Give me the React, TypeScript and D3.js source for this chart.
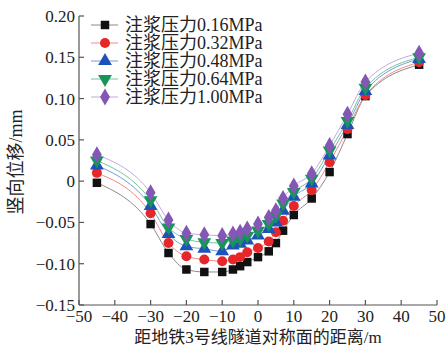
import { useMemo } from 'react';
import * as d3 from "d3";

// 距离 (m)
const distances = [-45, -30, -25, -20, -15, -10, -7, -5, -3, 0, 3, 5, 7, 10, 15, 20, 25, 30, 45];

// 竖向位移 (mm), one array per grouting pressure
const p016 = [-0.002, -0.052, -0.087, -0.107, -0.110, -0.110, -0.107, -0.103, -0.098, -0.092, -0.085, -0.075, -0.060, -0.041, -0.021, 0.011, 0.057, 0.103, 0.141];
const p032 = [0.010, -0.039, -0.075, -0.091, -0.095, -0.097, -0.095, -0.092, -0.086, -0.081, -0.073, -0.062, -0.048, -0.030, -0.011, 0.023, 0.063, 0.104, 0.144];
const p048 = [0.019, -0.030, -0.064, -0.079, -0.082, -0.085, -0.078, -0.076, -0.072, -0.066, -0.058, -0.050, -0.036, -0.019, -0.003, 0.031, 0.068, 0.109, 0.148];
const p064 = [0.025, -0.023, -0.056, -0.070, -0.074, -0.075, -0.072, -0.070, -0.066, -0.060, -0.052, -0.042, -0.027, -0.013, 0.003, 0.037, 0.073, 0.113, 0.150];
const p100 = [0.032, -0.014, -0.047, -0.063, -0.065, -0.066, -0.064, -0.062, -0.058, -0.052, -0.044, -0.036, -0.021, -0.006, 0.009, 0.043, 0.081, 0.120, 0.155];

const seriesNames = ["注浆压力0.16MPa", "注浆压力0.32MPa", "注浆压力0.48MPa", "注浆压力0.64MPa", "注浆压力1.00MPa"];
const xTicks = [-50, -40, -30, -20, -10, 0, 10, 20, 30, 40, 50];
const yTicks = [-0.15, -0.10, -0.05, 0, 0.05, 0.10, 0.15, 0.20];

const markColors = ["#111111", "#e5262b", "#1f52b8", "#16955a", "#8457b4"];
const lineColors = ["#8a8a8a", "#f08a80", "#6e9ed8", "#74c497", "#c6a6e2"];
const symbols = [d3.symbolSquare, d3.symbolCircle, d3.symbolTriangle, d3.symbolTriangle, d3.symbolDiamond];
const symSizes = [72, 78, 82, 82, 84];

const FONT = "'Liberation Serif', 'Noto Sans CJK SC', serif";

const fmtY = (v: number) => v === 0 ? "0" : (v < 0 ? "\u2212" : "") + Math.abs(v).toFixed(2);
const fmtX = (v: number) => (v < 0 ? "\u2212" : "") + Math.abs(v);

export default function App() {
     const width = 448, height = 346;
     const m = { left: 79, right: 437, top: 16, bottom: 305 };
     const x = d3.scaleLinear().domain([-50, 50]).range([m.left, m.right]);
     const y = d3.scaleLinear().domain([-0.15, 0.20]).range([m.bottom, m.top]);
     const all = [p016, p032, p048, p064, p100];

     const line = useMemo(() => d3.line<number>()
          .x((_, i) => x(distances[i]))
          .y(d => y(d))
          .curve(d3.curveMonotoneX), []);

     const sym = (i: number) => d3.symbol().type(symbols[i]).size(symSizes[i])() as string;
     const rot = (i: number) => i === 3 ? " rotate(180)" : "";

     return (
          <svg width={width} height={height} style={{ display: 'block' }} fontFamily={FONT}>
               <style>{`body{margin:0}`}</style>
               <rect width={width} height={height} fill="#fff" />

               {/* axes */}
               <g stroke="#555" strokeWidth={1.2} fill="none">
                    <line x1={m.left} x2={m.left} y1={m.top} y2={m.bottom} />
                    <line x1={m.left} x2={m.right} y1={m.bottom} y2={m.bottom} />
                    {yTicks.map(t => <line key={t} x1={m.left} x2={m.left + 5} y1={y(t)} y2={y(t)} />)}
                    {xTicks.map(t => <line key={t} x1={x(t)} x2={x(t)} y1={m.bottom} y2={m.bottom - 5} />)}
               </g>
               <g fontSize={17} fill="#222">
                    {yTicks.map(t => <text key={t} x={m.left - 4} y={y(t) + 6} textAnchor="end">{fmtY(t)}</text>)}
                    {xTicks.map(t => <text key={t} x={x(t)} y={m.bottom + 17} textAnchor="middle">{fmtX(t)}</text>)}
               </g>
               <text x={258} y={343} fontSize={17} textAnchor="middle" fill="#222">距地铁3号线隧道对称面的距离/m</text>
               <text transform="translate(22,162) rotate(-90)" fontSize={18} textAnchor="middle" fill="#222">竖向位移/mm</text>

               {/* series */}
               {all.map((s, i) => (
                    <path key={i} d={line(s) as string} fill="none" stroke={lineColors[i]} strokeWidth={1} />
               ))}
               {all.map((s, i) => (
                    <g key={i} fill={markColors[i]}>
                         {s.map((v, j) => (
                              <path key={j} d={sym(i)} transform={`translate(${x(distances[j])},${y(v)})${rot(i)}`} />
                         ))}
                    </g>
               ))}

               {/* legend */}
               {seriesNames.map((n, i) => {
                    const ly = 25 + i * 18;
                    return (
                         <g key={n}>
                              <line x1={91} x2={118} y1={ly} y2={ly} stroke={lineColors[i]} strokeWidth={1} />
                              <path d={sym(i)} transform={`translate(105,${ly})${rot(i)}`} fill={markColors[i]} />
                              <text x={125} y={ly + 6} fontSize={18} fill="#222">{n}</text>
                         </g>
                    );
               })}
          </svg>
     );
}
